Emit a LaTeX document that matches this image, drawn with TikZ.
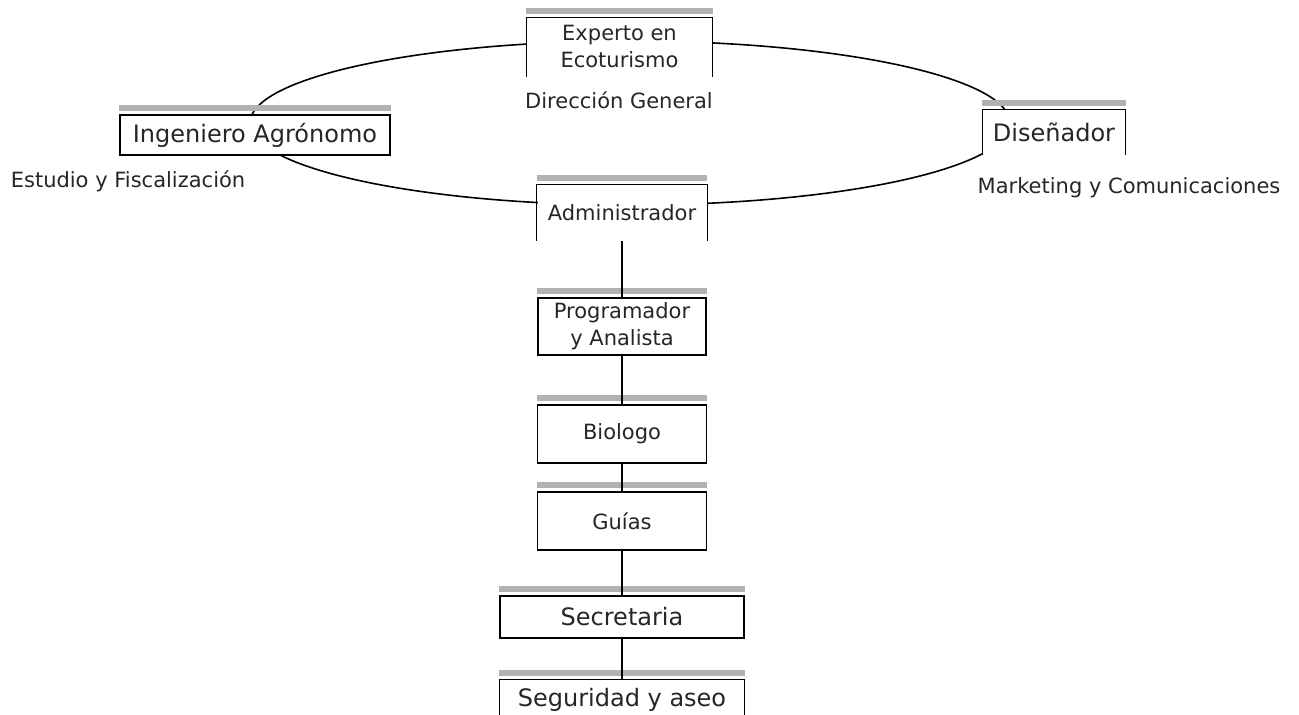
\documentclass[tikz,border=0pt]{standalone}
\usepackage{fontspec}
\setmainfont{DejaVu Sans}

\tikzset{
  puesto/.style={fill=white, inner sep=0pt, align=center, text=black!85,
    font=\fontsize{10.5}{13.5}\selectfont},
  cerrado/.style={puesto, draw, line width=0.6pt},
  grande/.style={font=\fontsize{12}{14}\selectfont},
  sombra/.style={line width=3pt, draw=black!30},
  rotulo/.style={text=black!85, font=\fontsize{10.5}{13}\selectfont}
}

\begin{document}
\begin{tikzpicture}[x=0.5pt, y=-0.5pt, line width=0.8pt]
\useasboundingbox (0,0) rectangle (1299,715);

% anillo de coordinacion
\draw (630,123) ellipse [x radius=190pt, y radius=41pt];

\node[puesto, minimum width=92.5pt, minimum height=29pt] (exp) at (619.5,47) {Experto en\\Ecoturismo};
\node[cerrado, grande, minimum width=135pt, minimum height=20pt] (ing) at (255,135) {Ingeniero Agrónomo};
\node[puesto, grande, minimum width=71pt, minimum height=22pt] (dis) at (1054,132) {Diseñador};
\node[puesto, minimum width=84.5pt, minimum height=27.5pt] (adm) at (622,212.5) {Administrador};
\node[cerrado, minimum width=84pt, minimum height=28.5pt] (prog) at (622,326.5) {Programador\\y Analista};
\node[cerrado, minimum width=84.5pt, minimum height=29pt] (bio) at (622,434) {Biologo};
\node[cerrado, minimum width=84.5pt, minimum height=29pt] (guias) at (622,521) {Guías};
\node[cerrado, grande, minimum width=122pt, minimum height=21pt] (sec) at (622,617) {Secretaria};
\node[puesto, grande, minimum width=122pt, minimum height=20pt] (seg) at (622,700) {Seguridad y aseo};

% cajas abiertas por abajo
\foreach \n in {exp,dis,adm,seg}
  \draw[line width=0.6pt] (\n.south west) -- (\n.north west) -- (\n.north east) -- (\n.south east);

\foreach \n in {exp,ing,dis,adm,prog,bio,guias,sec,seg}
  \draw[sombra] ([yshift=3pt]\n.north west) -- ([yshift=3pt]\n.north east);

\draw (adm) -- (prog);
\draw (prog) -- (bio);
\draw (bio) -- (guias);
\draw (guias) -- (sec);
\draw (sec) -- (seg);

\node[rotulo] (dirgen) at (619,100) {Dirección General};
\node[rotulo] (estudio) at (128,181) {Estudio y Fiscalización};
\node[rotulo] (mkt) at (1129,188) {Marketing y Comunicaciones};

\end{tikzpicture}
\end{document}
